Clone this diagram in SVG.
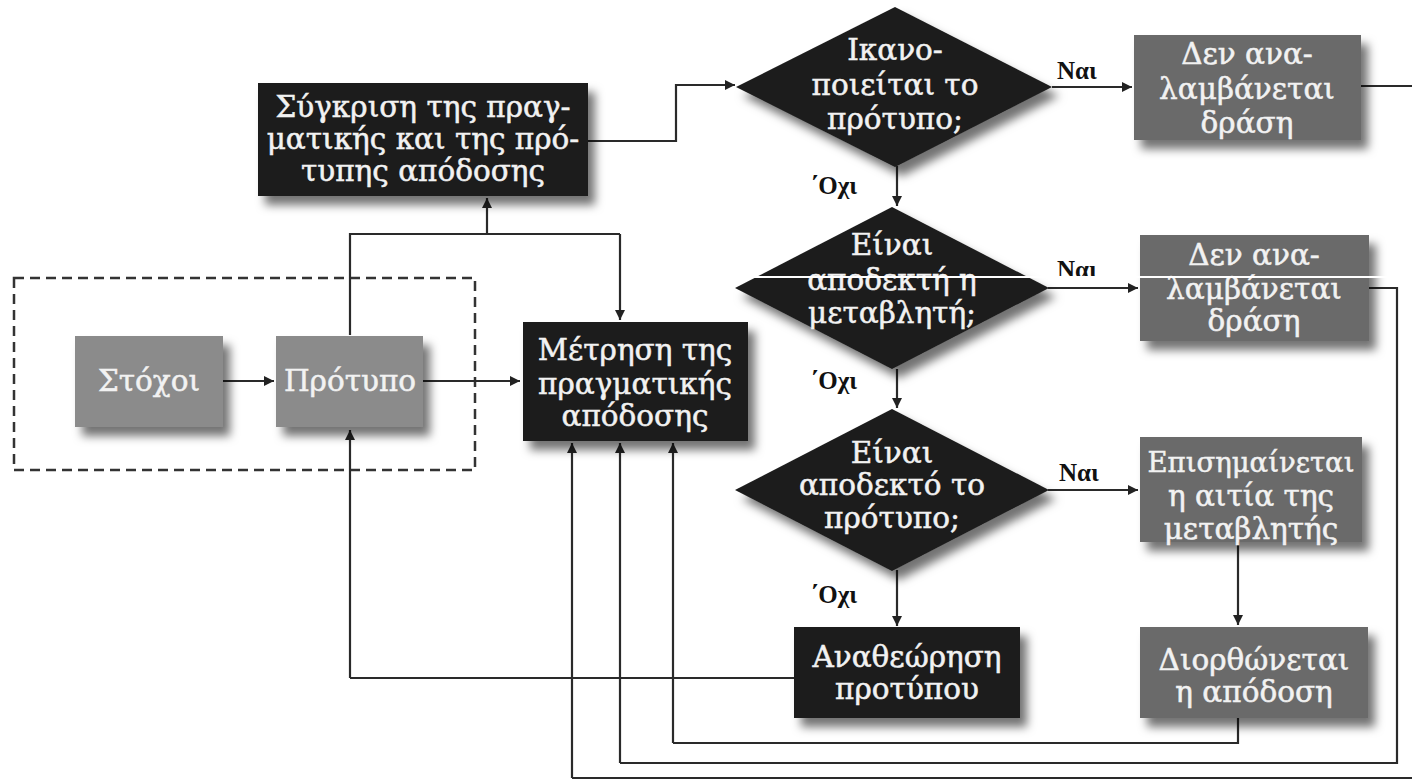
<svg xmlns="http://www.w3.org/2000/svg" width="1412" height="780" viewBox="0 0 1412 780">
<defs>
<filter id="sh" x="-20%" y="-20%" width="150%" height="160%">
<feDropShadow dx="7" dy="9" stdDeviation="5" flood-color="#000" flood-opacity="0.55"/>
</filter>
<marker id="ah" viewBox="0 0 10 10" refX="10" refY="5" markerWidth="10" markerHeight="10" markerUnits="userSpaceOnUse" orient="auto">
<path d="M0,0 L10,5 L0,10 z" fill="#222"/>
</marker>
<style>
.dark{fill:#1d1d1d;filter:url(#sh)}
.mid{fill:#6b6b6b;filter:url(#sh)}
.light{fill:#8b8b8b;filter:url(#sh)}
.t{font-family:"DejaVu Serif","Liberation Serif",serif;font-size:29.5px;fill:#f2f2f2;stroke:#f2f2f2;stroke-width:0.5;text-anchor:middle}
.lbl{font-family:"Liberation Serif","DejaVu Serif",serif;font-size:25px;font-weight:bold;fill:#111}
.c{fill:none;stroke:#2a2a2a;stroke-width:2.2}
.ca{fill:none;stroke:#2a2a2a;stroke-width:2.2;marker-end:url(#ah)}
</style>
</defs>
<rect width="1412" height="780" fill="#ffffff"/>

<rect x="14" y="278" width="461" height="192" fill="none" stroke="#333" stroke-width="2.5" stroke-dasharray="10,6"/>

<g id="connectors">
<path class="ca" d="M588,141 H676 V85 H735"/>
<path class="ca" d="M1052,87 H1132"/>
<path class="c" d="M1361,86 H1412"/>
<path class="ca" d="M897,166 V206"/>
<path class="ca" d="M1048,288 H1138"/>
<path class="c" d="M1369,288 H1397 V763 H620"/>
<path class="ca" d="M620,763 V443"/>
<path class="ca" d="M897,369 V408"/>
<path class="ca" d="M1048,490 H1138"/>
<path class="ca" d="M897,570 V626"/>
<path class="ca" d="M1238,542 V625"/>
<path class="c" d="M1238,718 V743 H673"/>
<path class="ca" d="M673,743 V443"/>
<path class="c" d="M1412,778 H572"/>
<path class="ca" d="M572,778 V443"/>
<path class="c" d="M794,678 H350"/>
<path class="ca" d="M350,678 V430"/>
<path class="c" d="M350,335 V234 H620"/>
<path class="ca" d="M620,234 V320"/>
<path class="ca" d="M487,234 V198"/>
<path class="ca" d="M223,381 H274"/>
<path class="ca" d="M423,381 H520"/>
</g>

<g id="n-sygkrisi">
<rect class="dark" x="258" y="83" width="330" height="113"/>
<text class="t" x="423" y="117">Σύγκριση της πραγ-</text>
<text class="t" x="423" y="149">ματικής και της πρό-</text>
<text class="t" x="423" y="181">τυπης απόδοσης</text>
</g>

<g id="n-d1">
<polygon class="dark" points="895,7 1052,87 895,167 736,87"/>
<text class="t" x="895" y="60">Ικανο-</text>
<text class="t" x="895" y="95">ποιείται το</text>
<text class="t" x="895" y="129">πρότυπο;</text>
</g>

<g id="n-b1">
<rect class="mid" x="1134" y="35" width="227" height="105"/>
<text class="t" x="1247" y="64">Δεν ανα-</text>
<text class="t" x="1247" y="99">λαμβάνεται</text>
<text class="t" x="1247" y="133">δράση</text>
</g>

<g id="n-d2">
<polygon class="dark" points="892,207 1049,288 892,369 735,288"/>
<text class="t" x="892" y="255">Είναι</text>
<text class="t" x="892" y="290">αποδεκτή η</text>
<text class="t" x="892" y="323">μεταβλητή;</text>
</g>

<g id="n-b2">
<rect class="mid" x="1140" y="235" width="229" height="106"/>
<text class="t" x="1254" y="265">Δεν ανα-</text>
<text class="t" x="1254" y="299">λαμβάνεται</text>
<text class="t" x="1254" y="331">δράση</text>
</g>

<g id="n-d3">
<polygon class="dark" points="892,409 1049,490 892,571 735,490"/>
<text class="t" x="892" y="463">Είναι</text>
<text class="t" x="892" y="495">αποδεκτό το</text>
<text class="t" x="892" y="528">πρότυπο;</text>
</g>

<g id="n-b3">
<rect class="mid" x="1140" y="437" width="222" height="105"/>
<text class="t" x="1251" y="472" style="font-size:27.5px">Επισημαίνεται</text>
<text class="t" x="1251" y="506">η αιτία της</text>
<text class="t" x="1251" y="539">μεταβλητής</text>
</g>

<g id="n-diorth">
<rect class="mid" x="1140" y="627" width="228" height="91"/>
<text class="t" x="1254" y="670">Διορθώνεται</text>
<text class="t" x="1254" y="702">η απόδοση</text>
</g>

<g id="n-anath">
<rect class="dark" x="794" y="627" width="226" height="91"/>
<text class="t" x="907" y="667">Αναθεώρηση</text>
<text class="t" x="907" y="699">προτύπου</text>
</g>

<g id="n-metrisi">
<rect class="dark" x="523" y="322" width="225" height="119"/>
<text class="t" x="635" y="360">Μέτρηση της</text>
<text class="t" x="635" y="394">πραγματικής</text>
<text class="t" x="635" y="426">απόδοσης</text>
</g>

<g id="n-stoxoi">
<rect class="light" x="75" y="336" width="148" height="91"/>
<text class="t" x="149" y="391">Στόχοι</text>
</g>

<g id="n-protypo">
<rect class="light" x="276" y="336" width="147" height="91"/>
<text class="t" x="350" y="391">Πρότυπο</text>
</g>

<g id="labels">
<text class="lbl" x="1057" y="79">Ναι</text>
<text class="lbl" x="1057" y="278">Ναι</text>
<text class="lbl" x="1059" y="481">Ναι</text>
<text class="lbl" x="810" y="194">΄Οχι</text>
<text class="lbl" x="810" y="389">΄Οχι</text>
<text class="lbl" x="810" y="603">΄Οχι</text>
</g>

<line x1="735" y1="277" x2="1412" y2="277" stroke="#ffffff" stroke-width="2"/>
</svg>
